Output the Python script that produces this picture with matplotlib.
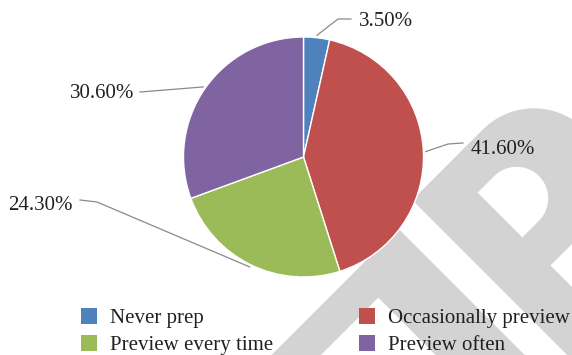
import numpy as np
import matplotlib
matplotlib.use('Agg')
import matplotlib.pyplot as plt
from matplotlib.patches import Polygon, Rectangle

# data
categories = ['Never prep', 'Occasionally preview', 'Preview every time', 'Preview often']
shares = [3.5, 41.6, 24.3, 30.6]
pct_labels = ['3.50%', '41.60%', '24.30%', '30.60%']
colors = ['#4F81BD', '#C0504D', '#9BBB59', '#8064A2']

W, H = 572, 355
CX, CY, R = 303.5, 157, 120   # pie centre / radius in px

plt.rcParams['font.family'] = ['Liberation Serif', 'DejaVu Serif']
TXT = '#231F20'

fig = plt.figure(figsize=(W / 100, H / 100), dpi=100)
bg = fig.add_axes([0, 0, 1, 1], zorder=0)
bg.set_xlim(0, W); bg.set_ylim(H, 0); bg.axis('off')

# ---- watermark (rotated "P" and a corner piece), built in a 45 deg frame ----
def uv2xy(pts):
    pts = np.asarray(pts, float)
    s = np.sqrt(2)
    return np.c_[(pts[:, 0] + pts[:, 1]) / s, (pts[:, 1] - pts[:, 0]) / s]

def half_disc(cu, cv, r, n=40):
    t = np.linspace(-np.pi / 2, np.pi / 2, n)
    return list(zip(cu + r * np.cos(t), cv + r * np.sin(t)))

GREY = '#D3D3D3'
p_outer = [(150, 433)] + half_disc(250, 505, 72) + [(201.5, 577), (201.5, 900), (150, 900)]
p_hole = [(201.5, 474)] + half_disc(225, 505.6, 31.6) + [(201.5, 537.2)]
corner = [(-600, 443), (120, 443), (120, 900), (57, 900), (57, 478), (-600, 478)]
bg.add_patch(Polygon(uv2xy(p_outer), closed=True, fc=GREY, ec='none', zorder=1))
bg.add_patch(Polygon(uv2xy(p_hole), closed=True, fc='white', ec='none', zorder=1.1))
bg.add_patch(Polygon(uv2xy(corner), closed=True, fc=GREY, ec='none', zorder=1))

# ---- pie ----
pax = fig.add_axes([(CX - R) / W, (H - CY - R) / H, 2 * R / W, 2 * R / H], zorder=1)
wedges, _ = pax.pie(shares, colors=colors, startangle=90, counterclock=False,
                    radius=1, wedgeprops=dict(edgecolor='white', linewidth=1))
pax.set_xlim(-1, 1); pax.set_ylim(-1, 1); pax.set_aspect('equal')
pax.patch.set_visible(False)

# ---- labels with leader lines (px coords) ----
label_layout = [
    ([(338, 19), (351, 19)], (359, 26), 'left'),
    ([(448, 144), (463, 143)], (471, 154), 'left'),
    ([(97, 202), (80, 200)], (73, 210), 'right'),
    ([(140, 92)], (134, 98), 'right'),
]
for w, txt, (pts, tpos, ha) in zip(wedges, pct_labels, label_layout):
    a = np.deg2rad((w.theta1 + w.theta2) / 2)
    start = (CX + R * 1.02 * np.cos(a), CY - R * 1.02 * np.sin(a))
    xs, ys = zip(*([start] + pts))
    bg.plot(xs, ys, color='#8A8A8A', lw=0.9, zorder=3)
    bg.text(tpos[0], tpos[1], txt, ha=ha, va='baseline', fontsize=15, color=TXT, zorder=4)

# ---- legend ----
col_x = [80.7, 359]
row_y = [308, 335]
sq = 16
for i, (name, c) in enumerate(zip(categories, colors)):
    x0, y0 = col_x[i % 2], row_y[i // 2]
    bg.add_patch(Rectangle((x0, y0), sq, sq, fc=c, ec='none', zorder=4))
    bg.text(x0 + 29.5, y0 + 15, name, ha='left', va='baseline', fontsize=15,
            color=TXT, zorder=4)

fig.savefig('out.png', dpi=100)
